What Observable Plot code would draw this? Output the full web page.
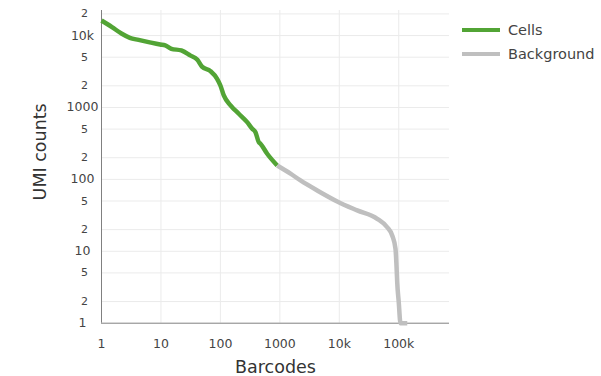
<!DOCTYPE html>
<html>
<head>
<meta charset="utf-8">
<script src="https://cdn.jsdelivr.net/npm/d3@7"></script>
<script src="https://cdn.jsdelivr.net/npm/@observablehq/plot@0.6"></script>
<style>
  body { margin: 0; background: #fff; font-family: "DejaVu Sans", sans-serif; }
  #chart { position: relative; width: 601px; height: 376px; }
  #chart svg { display: block; }
  .legend { position: absolute; left: 462px; top: 0; font-size: 14.5px; color: #444; }
  .legend .item { position: absolute; left: 0; height: 20px; display: flex; align-items: center; white-space: nowrap; }
  .legend .swatch { width: 38px; height: 4px; margin-right: 8px; }
</style>
</head>
<body>
<div id="chart"></div>
<script>
// Barcode rank curve: barcodes sorted by UMI count (rank vs. UMI counts)
const cellRanks = [1, 1.5, 2.2, 3, 4.2, 6.2, 9.7, 11.8, 15, 22, 31, 41, 49, 68, 88, 100, 114, 148, 204, 282, 343, 389, 442, 472, 612, 902];
const cellUmis  = [16200, 13100, 10600, 9300, 8700, 8100, 7500, 7300, 6550, 6200, 5300, 4600, 3700, 3200, 2500, 2020, 1470, 1070, 817, 625, 506, 453, 329, 313, 227, 156];

const bgRanks = [902, 1510, 2225, 4250, 9220, 20000, 43400, 63900, 77600, 88200, 91600, 94200, 100000, 107000, 139000];
const bgUmis  = [156, 120, 96.6, 70.1, 49.3, 37, 28.3, 21.6, 16.6, 10.8, 6.35, 3.7, 1.96, 1, 1];

const seriesNames  = ["Cells", "Background"];
const seriesColors = ["#52a435", "#bfbfbf"];

const xTicks = [1, 10, 100, 1000, 10000, 100000];
const yMajor = [1, 10, 100, 1000, 10000];
const yMinor = [2, 5, 20, 50, 200, 500, 2000, 5000, 20000];

const fmt = d => d >= 10000 ? (d / 1000) + "k" : String(d);
const minorFmt = d => String(d).charAt(0);

const rows = [
  ...cellRanks.map((r, i) => ({rank: r, umi: cellUmis[i], series: seriesNames[0]})),
  ...bgRanks.map((r, i) => ({rank: r, umi: bgUmis[i], series: seriesNames[1]}))
];

const chart = Plot.plot({
  width: 601,
  height: 376,
  marginLeft: 101,
  marginRight: 152,
  marginTop: 10,
  marginBottom: 53.3,
  style: {fontFamily: "DejaVu Sans, sans-serif", background: "#fff", overflow: "visible"},
  x: {type: "log", domain: [1, 714000], axis: null},
  y: {type: "log", domain: [1, 22300], axis: null},
  color: {domain: seriesNames, range: seriesColors},
  marks: [
    // grid
    Plot.gridX(xTicks.slice(1), {stroke: "#ebebeb", strokeOpacity: 1}),
    Plot.gridY(yMinor.concat(yMajor.slice(1)), {stroke: "#ebebeb", strokeOpacity: 1}),
    // tick labels
    Plot.text(xTicks, {x: d => d, frameAnchor: "bottom", lineAnchor: "middle", dy: 20.6, text: fmt, fontSize: 12.5, fill: "#444"}),
    Plot.text(yMajor, {y: d => d, frameAnchor: "left", textAnchor: "middle", dx: -19, text: fmt, fontSize: 12.5, fill: "#444"}),
    Plot.text(yMinor, {y: d => d, frameAnchor: "left", textAnchor: "middle", dx: -17, text: minorFmt, fontSize: 11, fill: "#444"}),
    // axis lines
    Plot.ruleX([1], {stroke: "#808080", strokeWidth: 1}),
    Plot.ruleY([1], {stroke: "#808080", strokeWidth: 1}),
    // curve
    Plot.line(rows, {x: "rank", y: "umi", z: "series", stroke: "series", strokeWidth: 4.5, curve: "monotone-x", strokeLinejoin: "round", strokeLinecap: "butt"}),
    // axis titles
    Plot.text(["Barcodes"], {frameAnchor: "bottom", lineAnchor: "middle", dy: 44, fontSize: 17.5, fill: "#333"}),
    Plot.text(["UMI counts"], {frameAnchor: "left", textAnchor: "middle", dx: -61, dy: -15, rotate: -90, fontSize: 17.5, fill: "#333"})
  ]
});

const host = document.getElementById("chart");
host.appendChild(chart);

// Legend
const legend = document.createElement("div");
legend.className = "legend";
const legendTops = [19.5, 43.5];
seriesNames.forEach((name, i) => {
  const item = document.createElement("div");
  item.className = "item";
  item.style.top = legendTops[i] + "px";
  const sw = document.createElement("span");
  sw.className = "swatch";
  sw.style.background = seriesColors[i];
  const label = document.createElement("span");
  label.textContent = name;
  item.appendChild(sw);
  item.appendChild(label);
  legend.appendChild(item);
});
host.appendChild(legend);
</script>
</body>
</html>
